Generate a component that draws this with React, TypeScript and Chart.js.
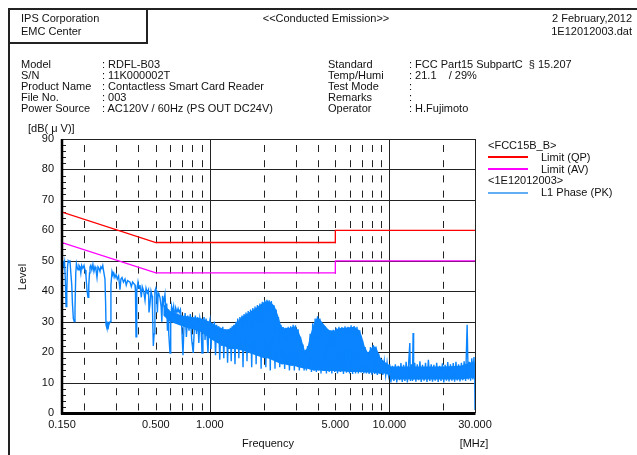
import React, { useEffect, useRef } from "react";
import { Chart, registerables } from "chart.js";
Chart.register(...registerables);

const FONT = "'Liberation Sans', Arial, Helvetica, sans-serif";
const BLUE = "#0a84ff";

// ---- axes ----
const X_MIN = 0.15;
const X_MAX = 30;
const X_TICKS = [0.15, 0.5, 1, 5, 10, 30];
const X_DASHED = [0.2, 0.3, 0.4, 0.5, 0.6, 0.7, 0.8, 0.9, 2, 3, 4, 5, 6, 7, 8, 9, 20];
const X_SOLID = [1, 10];
const Y_MIN = 0;
const Y_MAX = 90;
const Y_STEP = 10;

// ---- limits (FCC15B_B) ----
const LIMIT_FREQ = [0.15, 0.5, 5, 5, 30];
const QP_LIMIT = [66, 56, 56, 60, 60];
const AV_LIMIT = [56, 46, 46, 50, 50];

// ---- L1 Phase (PK) trace, [MHz, dBuV] ----
const PK_LOW: [number, number][] = [
  [0.150, 49.5], [0.151, 47], [0.152, 50], [0.1535, 48], [0.155, 49.5], [0.1565, 44], [0.158, 35], [0.1595, 40],
  [0.161, 48], [0.1625, 50], [0.1645, 49.5], [0.166, 50.2], [0.168, 46], [0.170, 42], [0.1715, 36], [0.1735, 31],
  [0.1755, 30], [0.1772, 34], [0.179, 46], [0.1805, 49], [0.182, 48], [0.1842, 47], [0.1865, 48.5], [0.1889, 48],
  [0.191, 46], [0.193, 48.5], [0.196, 47.5], [0.199, 48.5], [0.2015, 47], [0.204, 45], [0.207, 40], [0.2094, 38],
  [0.2115, 42], [0.2135, 46], [0.2148, 48], [0.217, 48.5], [0.220, 47], [0.223, 48.8], [0.226, 46.5], [0.2291, 48],
  [0.232, 47], [0.235, 44.5], [0.238, 48], [0.241, 47.5], [0.2442, 46.5], [0.247, 48], [0.250, 47.5], [0.253, 48.5],
  [0.256, 46.5], [0.2603, 44], [0.2625, 36], [0.2638, 29], [0.2665, 28], [0.268, 30], [0.2706, 27.5], [0.2735, 29],
  [0.2777, 30], [0.281, 42], [0.2849, 46.5], [0.288, 45.5], [0.2915, 46], [0.296, 44.5], [0.300, 45.5], [0.305, 44],
  [0.310, 45], [0.3156, 40.5], [0.3195, 44], [0.324, 44.5], [0.330, 43], [0.3366, 44], [0.342, 42], [0.348, 43.5],
  [0.3589, 43], [0.365, 41.5], [0.371, 43], [0.3827, 42], [0.385, 40], [0.3876, 25], [0.390, 30], [0.3925, 40],
  [0.3977, 43], [0.403, 41], [0.408, 42], [0.415, 38], [0.420, 41.5], [0.428, 40], [0.4351, 37], [0.441, 41],
  [0.448, 39.5], [0.455, 40.5], [0.458, 33], [0.4639, 36], [0.470, 40], [0.476, 38.5], [0.479, 34], [0.484, 22],
  [0.489, 26], [0.494, 40],
];
const PK_MID: [number, number][] = [
  [0.500, 41], [0.505, 39], [0.510, 33], [0.515, 39.5], [0.520, 39], [0.527, 38], [0.535, 35], [0.540, 30],
  [0.545, 38.5], [0.552, 36], [0.562, 39], [0.570, 32], [0.575, 36], [0.580, 27], [0.585, 34], [0.590, 26],
  [0.5996, 19.7], [0.605, 30], [0.612, 35], [0.620, 33], [0.628, 35], [0.636, 31], [0.645, 34.5], [0.655, 33],
  [0.665, 34.3], [0.675, 33], [0.685, 34], [0.695, 30], [0.708, 19], [0.718, 29], [0.728, 32.8], [0.740, 25],
  [0.752, 32], [0.765, 27], [0.778, 32.5], [0.792, 24], [0.808, 19.7], [0.818, 27], [0.830, 32], [0.842, 26],
  [0.855, 31.5], [0.868, 23], [0.880, 31], [0.892, 29], [0.904, 19.7], [0.915, 28], [0.928, 31.5], [0.940, 24],
  [0.952, 31], [0.965, 25], [0.976, 19.7], [0.988, 29],
];
const PK_BAND1: [number, number][] = [
  [1.000, 30.5], [1.015, 21], [1.030, 29.5], [1.045, 24], [1.060, 30], [1.075, 19], [1.090, 29], [1.105, 23],
  [1.120, 28.5], [1.135, 17.5], [1.150, 28], [1.165, 22], [1.180, 28.3], [1.195, 18], [1.210, 27.5], [1.225, 24],
  [1.240, 27], [1.255, 16.5], [1.270, 27.5], [1.285, 21], [1.300, 28], [1.315, 17], [1.330, 28.5], [1.345, 22],
  [1.360, 29], [1.380, 16], [1.400, 30], [1.415, 23], [1.430, 31], [1.450, 18], [1.470, 31.5], [1.490, 22],
  [1.510, 32], [1.530, 15], [1.550, 32.5], [1.570, 24], [1.590, 33], [1.610, 17], [1.635, 33.5], [1.660, 22],
  [1.685, 34], [1.710, 15], [1.735, 34.5], [1.760, 21], [1.785, 35], [1.810, 16], [1.840, 35.5], [1.870, 20],
  [1.900, 36], [1.930, 14.5], [1.960, 36.5], [1.990, 19], [2.020, 37], [2.050, 15], [2.080, 37.2], [2.110, 18],
  [2.140, 37], [2.170, 14], [2.200, 36.8], [2.235, 19], [2.270, 35.5], [2.305, 14.5], [2.340, 34], [2.375, 18],
  [2.410, 31.5], [2.450, 15], [2.490, 29], [2.530, 16], [2.570, 28.2], [2.610, 14.5], [2.650, 28], [2.690, 16],
  [2.730, 28.3], [2.775, 14], [2.820, 28.5], [2.865, 15.5], [2.910, 29], [2.955, 14], [3.000, 28.8],
];
const PK_BAND2: [number, number][] = [
  [3.050, 16], [3.100, 27.5], [3.150, 14], [3.200, 25], [3.250, 15], [3.300, 22.5], [3.350, 14], [3.400, 20.5],
  [3.450, 14], [3.500, 22], [3.560, 15], [3.620, 26], [3.680, 13.5], [3.740, 29.5], [3.800, 14], [3.860, 31],
  [3.920, 13.5], [3.980, 31.8], [4.040, 14], [4.100, 31], [4.160, 13], [4.230, 29.5], [4.300, 14], [4.380, 28.5],
  [4.460, 13], [4.540, 27.5], [4.620, 13.5], [4.700, 27], [4.780, 13], [4.870, 27.3], [4.960, 13.5], [5.050, 28],
  [5.140, 13], [5.240, 28.3], [5.340, 13.5], [5.440, 28.2], [5.550, 12.8], [5.660, 28.5], [5.770, 13.2], [5.880, 28.3],
  [6.000, 13], [6.120, 28.8], [6.240, 12.8], [6.360, 28.6], [6.480, 13], [6.600, 28.3], [6.720, 13], [6.840, 27.2],
  [6.960, 13.2], [7.080, 24], [7.200, 13], [7.320, 21.7], [7.450, 13], [7.580, 20], [7.710, 12.8], [7.850, 21.7],
  [7.990, 12.6], [8.130, 22.3], [8.270, 12.8], [8.420, 21.8], [8.570, 12.5], [8.720, 19.5], [8.880, 12.8], [9.040, 17.4],
  [9.200, 12.5], [9.370, 17], [9.540, 12.4], [9.710, 16.5], [9.890, 12.5],
];
const PK_HIGH: [number, number][] = [
  [10.05, 16], [10.20, 10], [10.40, 15.5], [10.60, 10.5], [10.80, 16], [11.00, 10], [11.20, 15.5], [11.40, 10.8],
  [11.60, 16.4], [11.80, 10.2], [12.00, 15.8], [12.20, 10.5], [12.40, 16.8], [12.60, 10], [12.80, 16], [13.00, 23],
  [13.10, 10.5], [13.30, 16], [13.45, 10.5], [13.56, 26.3], [13.65, 11], [13.85, 16.5], [14.05, 10.3], [14.30, 16],
  [14.55, 10.8], [14.80, 17], [15.05, 10.2], [15.30, 15.8], [15.60, 10.6], [15.90, 16.5], [16.20, 10.2], [16.50, 17.5],
  [16.80, 10.5], [17.10, 16], [17.40, 10.3], [17.70, 15.8], [18.00, 10.6], [18.35, 16.5], [18.70, 10.2], [19.05, 15.5],
  [19.40, 10.5], [19.75, 16.3], [20.10, 10], [20.45, 15.8], [20.80, 10.6], [21.15, 16.7], [21.50, 10.4], [21.90, 16],
  [22.30, 10.6], [22.70, 16.4], [23.10, 10.3], [23.50, 16.8], [23.90, 10.7], [24.30, 16], [24.75, 10.4], [25.20, 16.5],
  [25.65, 10.8], [26.10, 17], [26.60, 10.5], [27.12, 29], [27.50, 11], [27.90, 16.8], [28.35, 10.6], [28.80, 18],
  [29.20, 11], [29.60, 18.4], [29.90, 12], [30.00, 1],
];

// ---- dense core of the PK trace (filled band) ----
const BAND_FREQ = [0.55, 0.6, 0.7, 0.8, 0.9, 1.0, 1.1, 1.2, 1.3, 1.4, 1.5, 1.6, 1.7, 1.8, 1.9, 2.0, 2.1, 2.2, 2.3, 2.4, 2.5, 2.6, 2.8, 2.95, 3.1, 3.25, 3.38, 3.5, 3.6, 3.8, 3.95, 4.1, 4.3, 4.6, 4.9, 5.2, 5.6, 6.0, 6.4, 6.8, 7.0, 7.3, 7.6, 7.9, 8.2, 8.5, 8.9, 9.4, 10.0, 10.2, 12, 15, 20, 25, 29.5, 30];
const BAND_UPPER = [36, 33.5, 32, 31.5, 31, 30, 28.5, 27.5, 27.5, 29.5, 31.5, 32.5, 33.5, 34.5, 35.5, 36.5, 36.8, 36.3, 35, 32, 28.5, 27.8, 28, 28.5, 27.3, 24, 20.5, 21.5, 25, 29.5, 31.3, 30.8, 29.2, 27.3, 27, 27.8, 28, 28.2, 28.3, 27.2, 25.5, 21.8, 19.8, 21.2, 22, 21.2, 18.2, 16.8, 15.8, 15.3, 15.3, 15.3, 15.3, 15.5, 17, 16];
const BAND_LOWER = [32, 30, 28.5, 27.5, 26.5, 24.5, 23, 22, 21, 21, 20.5, 20, 19.5, 19, 18.5, 18, 18, 17.5, 17, 16.5, 16, 16, 15.5, 15.5, 15, 14.8, 14.5, 14.5, 14.3, 14, 14, 14, 13.8, 13.8, 13.8, 13.6, 13.6, 13.5, 13.5, 13.5, 13.5, 13.3, 13.3, 13.2, 13.2, 13, 13, 13, 12.5, 11, 11, 11, 11, 11, 11.5, 11];

const gridPlugin = {
  id: "emcGrid",
  beforeDatasetsDraw(chart: any) {
    const { ctx, chartArea: a, scales } = chart;
    const x = scales.x, y = scales.y;
    ctx.save();
    ctx.strokeStyle = "#222";
    ctx.lineWidth = 1;
    for (let v = Y_MIN + Y_STEP; v <= Y_MAX; v += Y_STEP) {
      const py = Math.round(y.getPixelForValue(v)) + 0.5;
      ctx.beginPath(); ctx.moveTo(a.left, py); ctx.lineTo(a.right, py); ctx.stroke();
    }
    ctx.setLineDash([7, 8.2]);
    ctx.lineDashOffset = 9.2;
    for (const f of X_DASHED) {
      const px = Math.round(x.getPixelForValue(f)) + 0.5;
      ctx.beginPath(); ctx.moveTo(px, a.top); ctx.lineTo(px, a.bottom); ctx.stroke();
    }
    ctx.setLineDash([]);
    for (const f of [...X_SOLID, X_MAX]) {
      const px = Math.round(x.getPixelForValue(f)) + 0.5;
      ctx.beginPath(); ctx.moveTo(px, a.top); ctx.lineTo(px, a.bottom); ctx.stroke();
    }
    for (let v = Y_MIN + 2; v < Y_MAX; v += 2) {
      if (v % Y_STEP === 0) continue;
      const py = Math.round(y.getPixelForValue(v)) + 0.5;
      ctx.beginPath(); ctx.moveTo(a.left, py); ctx.lineTo(a.left + 4, py); ctx.stroke();
    }
    ctx.restore();
  },
  afterDatasetsDraw(chart: any) {
    const { ctx, chartArea: a } = chart;
    ctx.save();
    ctx.strokeStyle = "#000";
    ctx.lineWidth = 2.5;
    ctx.beginPath(); ctx.moveTo(a.left, a.top); ctx.lineTo(a.left, a.bottom + 1.5); ctx.stroke();
    ctx.lineWidth = 3;
    ctx.beginPath(); ctx.moveTo(a.left - 1, a.bottom + 0.5); ctx.lineTo(a.right + 0.5, a.bottom + 0.5); ctx.stroke();
    ctx.restore();
  },
};

const pts = (fs: number[], vs: number[]) => fs.map((f, i) => ({ x: f, y: vs[i] }));
const pairPts = (arr: [number, number][]) => arr.map(([f, v]) => ({ x: f, y: v }));

function T(props: { x: number; y: number; align?: string; size?: number; children: any }) {
  const { x, y, align = "left", size = 11, children } = props;
  const style: any = { position: "absolute", top: y - 7, lineHeight: "14px", fontSize: size, whiteSpace: "pre" };
  if (align === "left") style.left = x;
  else if (align === "right") style.right = 637 - x;
  else { style.left = x; style.transform = "translateX(-50%)"; }
  return <div style={style}>{children}</div>;
}

function Line(props: { x: number; y: number; w: number; color: string }) {
  return <div style={{ position: "absolute", left: props.x, top: props.y, width: props.w, height: 1.5, background: props.color }} />;
}

export default function App() {
  const ref = useRef<HTMLCanvasElement>(null);
  useEffect(() => {
    Chart.defaults.font.family = FONT;
    const pk = [...PK_LOW, ...PK_MID, ...PK_BAND1, ...PK_BAND2, ...PK_HIGH];
    const chart = new Chart(ref.current!, {
      type: "line",
      data: {
        datasets: [
          { label: "Limit (QP)", data: pts(LIMIT_FREQ, QP_LIMIT), borderColor: "#ff0000", borderWidth: 1.3, pointRadius: 0, order: 0 },
          { label: "Limit (AV)", data: pts(LIMIT_FREQ, AV_LIMIT), borderColor: "#ff00ff", borderWidth: 1.3, pointRadius: 0, order: 1 },
          { label: "L1 Phase (PK)", data: pairPts(pk), borderColor: BLUE, borderWidth: 1.4, pointRadius: 0, order: 2 },
          { label: "core", data: pts(BAND_FREQ, BAND_UPPER), borderColor: BLUE, borderWidth: 0, backgroundColor: BLUE, pointRadius: 0, fill: "+1", order: 3 },
          { label: "coreLow", data: pts(BAND_FREQ, BAND_LOWER), borderColor: BLUE, borderWidth: 0, pointRadius: 0, fill: false, order: 4 },
        ],
      } as any,
      options: {
        responsive: false,
        animation: false,
        devicePixelRatio: 1,
        parsing: false as any,
        normalized: true,
        layout: { padding: { left: 32, right: 162, top: 139, bottom: 22 } },
        plugins: { legend: { display: false }, tooltip: { enabled: false } },
        elements: { line: { tension: 0 } },
        scales: {
          x: {
            type: "logarithmic",
            min: X_MIN,
            max: X_MAX,
            afterBuildTicks: (s: any) => { s.ticks = X_TICKS.map((v) => ({ value: v })); },
            afterFit: (s: any) => { s.height = 20; },
            grid: { display: false, drawTicks: false },
            border: { display: false },
            ticks: {
              autoSkip: false, maxRotation: 0, padding: 5, color: "#111",
              font: { size: 11, family: FONT },
              callback: (v: any) => Number(v).toFixed(3),
            },
          },
          y: {
            type: "linear",
            min: Y_MIN,
            max: Y_MAX,
            afterFit: (s: any) => { s.width = 30; },
            grid: { display: false, drawTicks: false },
            border: { display: false },
            ticks: { stepSize: Y_STEP, padding: 8, color: "#111", font: { size: 11, family: FONT } },
          },
        },
      } as any,
      plugins: [gridPlugin],
    });
    return () => chart.destroy();
  }, []);

  return (
    <div style={{ position: "absolute", left: 0, top: 0, width: 637, height: 455, background: "#fff", overflow: "hidden", fontFamily: FONT, fontSize: 11, color: "#111" }}>
      <canvas ref={ref} width={637} height={455} style={{ position: "absolute", left: 0, top: 0, width: 637, height: 455 }} />
      {/* frame */}
      <div style={{ position: "absolute", left: 8, top: 8, width: 629, height: 1.5, background: "#222" }} />
      <div style={{ position: "absolute", left: 8, top: 8, width: 1.5, height: 447, background: "#222" }} />
      <div style={{ position: "absolute", left: 146, top: 8, width: 1.5, height: 35, background: "#222" }} />
      <div style={{ position: "absolute", left: 8, top: 42, width: 140, height: 1.5, background: "#222" }} />
      {/* header */}
      <T x={21} y={18}>IPS Corporation</T>
      <T x={21} y={31}>EMC Center</T>
      <T x={326} y={18} align="center">{"<<Conducted Emission>>"}</T>
      <T x={632} y={18} align="right">2 February,2012</T>
      <T x={632} y={31} align="right">1E12012003.dat</T>
      {/* info */}
      <T x={21} y={64}>Model</T>
      <T x={21} y={75}>S/N</T>
      <T x={21} y={86}>Product Name</T>
      <T x={21} y={97}>File No.</T>
      <T x={21} y={108}>Power Source</T>
      <T x={102} y={64}>: RDFL-B03</T>
      <T x={102} y={75}>: 11K000002T</T>
      <T x={102} y={86}>: Contactless Smart Card Reader</T>
      <T x={102} y={97}>: 003</T>
      <T x={102} y={108}>: AC120V / 60Hz (PS OUT DC24V)</T>
      <T x={328} y={64}>Standard</T>
      <T x={328} y={75}>Temp/Humi</T>
      <T x={328} y={86}>Test Mode</T>
      <T x={328} y={97}>Remarks</T>
      <T x={328} y={108}>Operator</T>
      <T x={409} y={64}>: FCC Part15 SubpartC  § 15.207</T>
      <T x={409} y={75}>: 21.1    / 29%</T>
      <T x={409} y={86}>:</T>
      <T x={409} y={97}>:</T>
      <T x={409} y={108}>: H.Fujimoto</T>
      {/* axis titles */}
      <T x={28} y={128}>[dB( μ V)]</T>
      <div style={{ position: "absolute", left: 22, top: 277, transform: "translate(-50%, -50%) rotate(-90deg)", fontSize: 11, lineHeight: "14px", whiteSpace: "pre" }}>Level</div>
      <T x={268} y={443} align="center">Frequency</T>
      <T x={474} y={443} align="center">[MHz]</T>
      {/* legend */}
      <T x={488} y={145}>{"<FCC15B_B>"}</T>
      <Line x={488} y={156} w={40} color="#ff0000" />
      <T x={541} y={157}>Limit (QP)</T>
      <Line x={488} y={168} w={40} color="#ff00ff" />
      <T x={541} y={169}>Limit (AV)</T>
      <T x={488} y={180}>{"<1E12012003>"}</T>
      <Line x={488} y={192} w={40} color="#62aef5" />
      <T x={541} y={192}>L1 Phase (PK)</T>
    </div>
  );
}
